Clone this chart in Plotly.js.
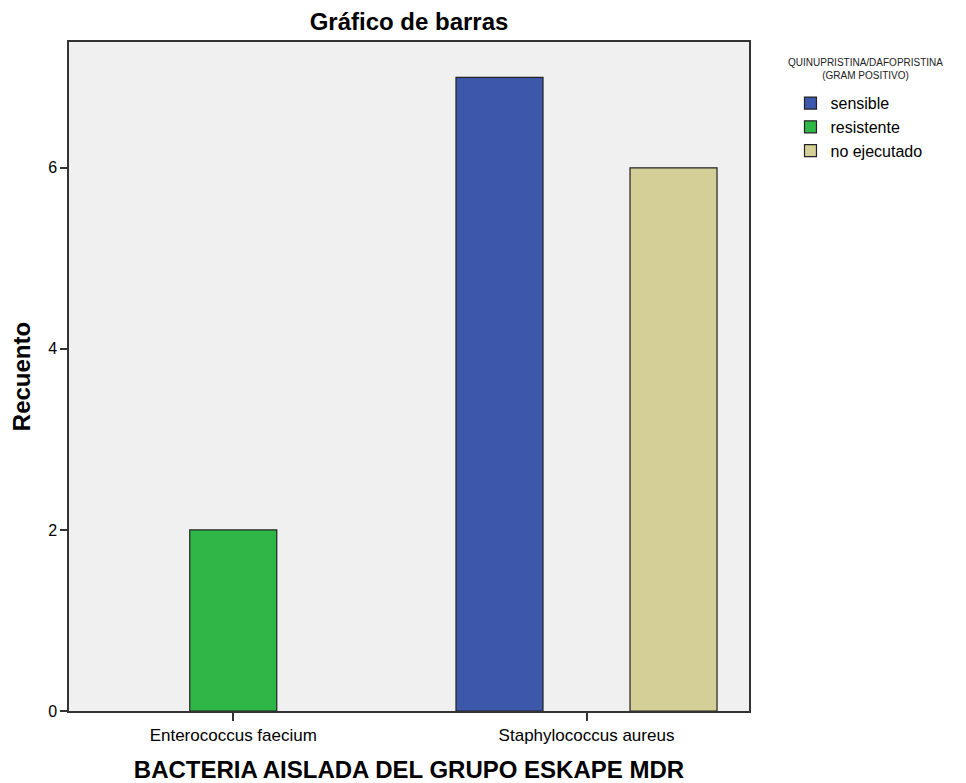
<!DOCTYPE html>
<html>
<head>
<meta charset="utf-8">
<script src="https://cdn.plot.ly/plotly-3.0.1.min.js"></script>
<style>html,body{margin:0;padding:0;background:#fff;}#chart{width:966px;height:783px;}</style>
</head>
<body>
<div id="chart"></div>
<script>
const categories = ["Enterococcus faecium", "Staphylococcus aureus"];
const seriesNames = ["sensible", "resistente", "no ejecutado"];
const sensible = [0, 7];
const resistente = [2, 0];
const noEjecutado = [0, 6];
const colors = ["#3D57AB", "#2EB746", "#D4CF97"];
const legendTitle = "QUINUPRISTINA/DAFOPRISTINA<br>(GRAM POSITIVO)";

const values = [sensible, resistente, noEjecutado];
const traces = seriesNames.map((name, i) => ({
  type: "bar",
  name: name,
  x: categories,
  // a count of 0 draws no bar (and no outline along the axis)
  y: values[i].map(v => v === 0 ? null : v),
  marker: {color: colors[i], line: {color: "#222", width: 1.2}},
  hoverinfo: "x+y+name"
}));

const layout = {
  width: 966, height: 783,
  paper_bgcolor: "#ffffff",
  plot_bgcolor: "#F0F0F0",
  font: {family: "Liberation Sans, Arial, sans-serif", color: "#000", size: 16},
  margin: {l: 69, r: 217, t: 42, b: 72, pad: 0},
  title: {text: "<b>Gráfico de barras</b>", x: 0.5, xref: "paper", y: 0.972, yanchor: "middle", font: {size: 24, color: "#000"}},
  barmode: "group",
  bargap: 0.261,
  bargroupgap: 0,
  showlegend: true,
  legend: {
    x: 1.061, xanchor: "left", y: 0.934, yanchor: "top",
    bgcolor: "rgba(0,0,0,0)",
    font: {size: 16, color: "#000"},
    itemwidth: 30,
    tracegroupgap: 0
  },
  annotations: [{
    text: legendTitle, xref: "paper", yref: "paper",
    x: 1.171, y: 0.981, xanchor: "center", yanchor: "top",
    align: "center", showarrow: false,
    font: {size: 10, color: "#222"}
  }],
  xaxis: {
    type: "category",
    range: [-0.465, 1.46],
    showline: true, mirror: true, linecolor: "#333", linewidth: 1.5,
    ticks: "outside", ticklen: 8, tickcolor: "#333", tickwidth: 1.5,
    showgrid: false, zeroline: false,
    tickfont: {size: 17},
    title: {text: "<b>BACTERIA AISLADA DEL GRUPO ESKAPE MDR</b>", font: {size: 24}, standoff: 21}
  },
  yaxis: {
    range: [0, 7.39],
    tickvals: [0, 2, 4, 6],
    showline: true, mirror: true, linecolor: "#333", linewidth: 1.5,
    ticks: "outside", ticklen: 7, tickcolor: "#333", tickwidth: 1.5,
    showgrid: false, zeroline: false,
    tickfont: {size: 16},
    title: {text: "<b>Recuento</b>", font: {size: 24}, standoff: 11}
  }
};

Plotly.newPlot("chart", traces, layout, {displayModeBar: false});
</script>
</body>
</html>
